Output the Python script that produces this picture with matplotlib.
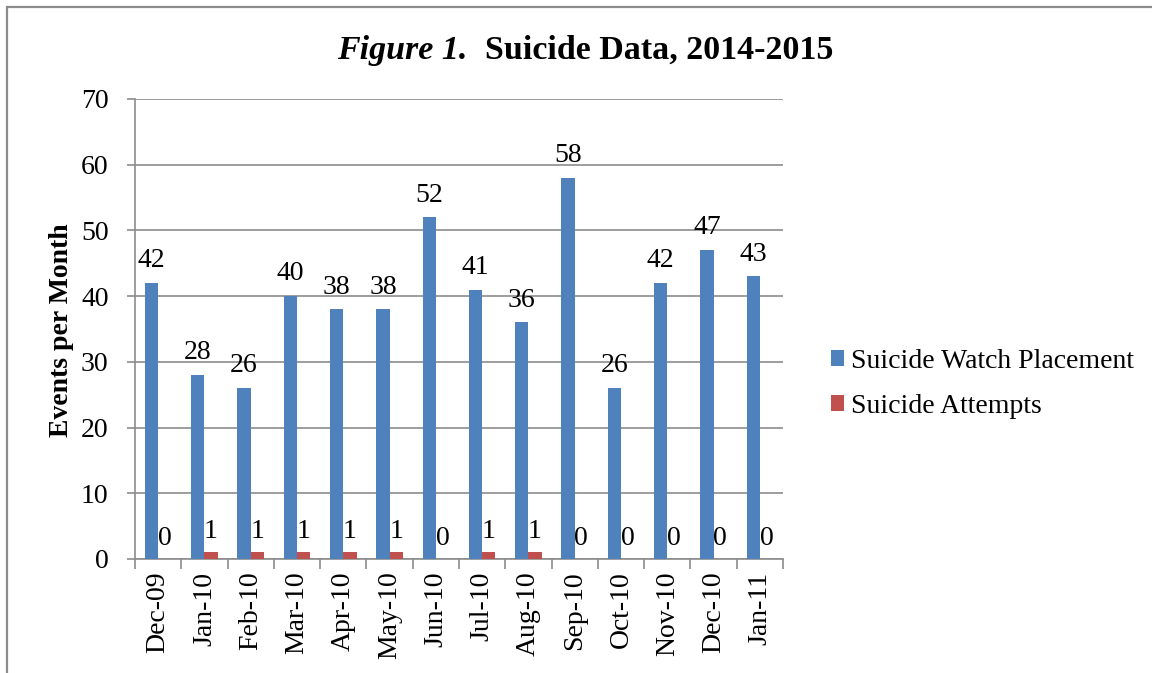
import matplotlib
matplotlib.use("Agg")
import matplotlib.pyplot as plt
from matplotlib.patches import Rectangle
import numpy as np

months = ["Dec-09", "Jan-10", "Feb-10", "Mar-10", "Apr-10", "May-10", "Jun-10",
          "Jul-10", "Aug-10", "Sep-10", "Oct-10", "Nov-10", "Dec-10", "Jan-11"]
watch = [42, 28, 26, 40, 38, 38, 52, 41, 36, 58, 26, 42, 47, 43]
attempts = [0, 1, 1, 1, 1, 1, 0, 1, 1, 0, 0, 0, 0, 0]

BLUE = "#4F81BD"
RED = "#C0504D"
GRID = "#8C8C8C"
FONT = "Liberation Serif"
FS = 20

plt.rcParams['font.family'] = [FONT, 'DejaVu Serif']

fig = plt.figure(figsize=(11.52, 6.73), dpi=100)
ax = fig.add_axes([135/1152, 1-559/673, (783-135)/1152, (559-99)/673])

x = np.arange(len(months))
w = 1/3.5
b1 = ax.bar(x - w/2, watch, w, color=BLUE, label="Suicide Watch Placement", zorder=3)
b2 = ax.bar(x + w/2, attempts, w, color=RED, label="Suicide Attempts", zorder=3)

for rect, v in zip(b1, watch):
    ax.annotate(str(v), (rect.get_x() + rect.get_width()/2, v), xytext=(0, 7),
                textcoords="offset points", ha="center", va="bottom", fontsize=FS)
for rect, v in zip(b2, attempts):
    ax.annotate(str(v), (rect.get_x() + rect.get_width()/2, v), xytext=(0, 6),
                textcoords="offset points", ha="center", va="bottom", fontsize=FS)

ax.set_xlim(-0.5, len(months) - 0.5)
ax.set_ylim(0, 70)
ax.set_yticks(range(0, 71, 10))
ax.yaxis.grid(True, color=GRID, linewidth=1.2, zorder=0)
ax.set_axisbelow(True)
ax.tick_params(axis="y", length=6, width=1.2, color=GRID, labelsize=FS, pad=13)

ax.set_xticks(x)
ax.set_xticklabels(months, rotation=90, fontsize=FS)
ax.set_xticks(np.arange(-0.5, len(months), 1), minor=True)
ax.tick_params(axis="x", which="major", length=0, pad=9)
ax.tick_params(axis="x", which="minor", length=7, width=1.2, color=GRID)

for s in ["top", "right"]:
    ax.spines[s].set_visible(False)
for s in ["left", "bottom"]:
    ax.spines[s].set_color(GRID)
    ax.spines[s].set_linewidth(1.2)

fig.text(62/1152, 1-330/673, "Events per Month", rotation=90, ha="center", va="center",
         fontsize=FS, fontweight="bold")

ax.legend(loc="center left", bbox_to_anchor=(817/1152, 1-384/673),
          bbox_transform=fig.transFigure, frameon=False, fontsize=FS,
          handlelength=0.47, handleheight=0.47, handletextpad=0.25,
          labelspacing=0.72, borderpad=0)

# title composed of two parts
fig.canvas.draw()
r = fig.canvas.get_renderer()
t1 = fig.text(0, 1-50/673, "Figure 1.", fontsize=24.5, fontweight="bold", style="italic",
              ha="left", va="center")
t2 = fig.text(0, 1-50/673, "  Suicide Data, 2014-2015", fontsize=24.5, fontweight="bold",
              ha="left", va="center")
w1 = t1.get_window_extent(r).width
w2 = t2.get_window_extent(r).width
cx = 585
start = cx - (w1 + w2) / 2
t1.set_x(start / 1152)
t2.set_x((start + w1) / 1152)

# outer border
fig.patches.append(Rectangle((7/1152, -0.05), 1.1, 1 - 7/673 + 0.05, transform=fig.transFigure,
                             fill=False, edgecolor="#8C8C8C", linewidth=1.6))

fig.savefig("out.png", dpi=100)
